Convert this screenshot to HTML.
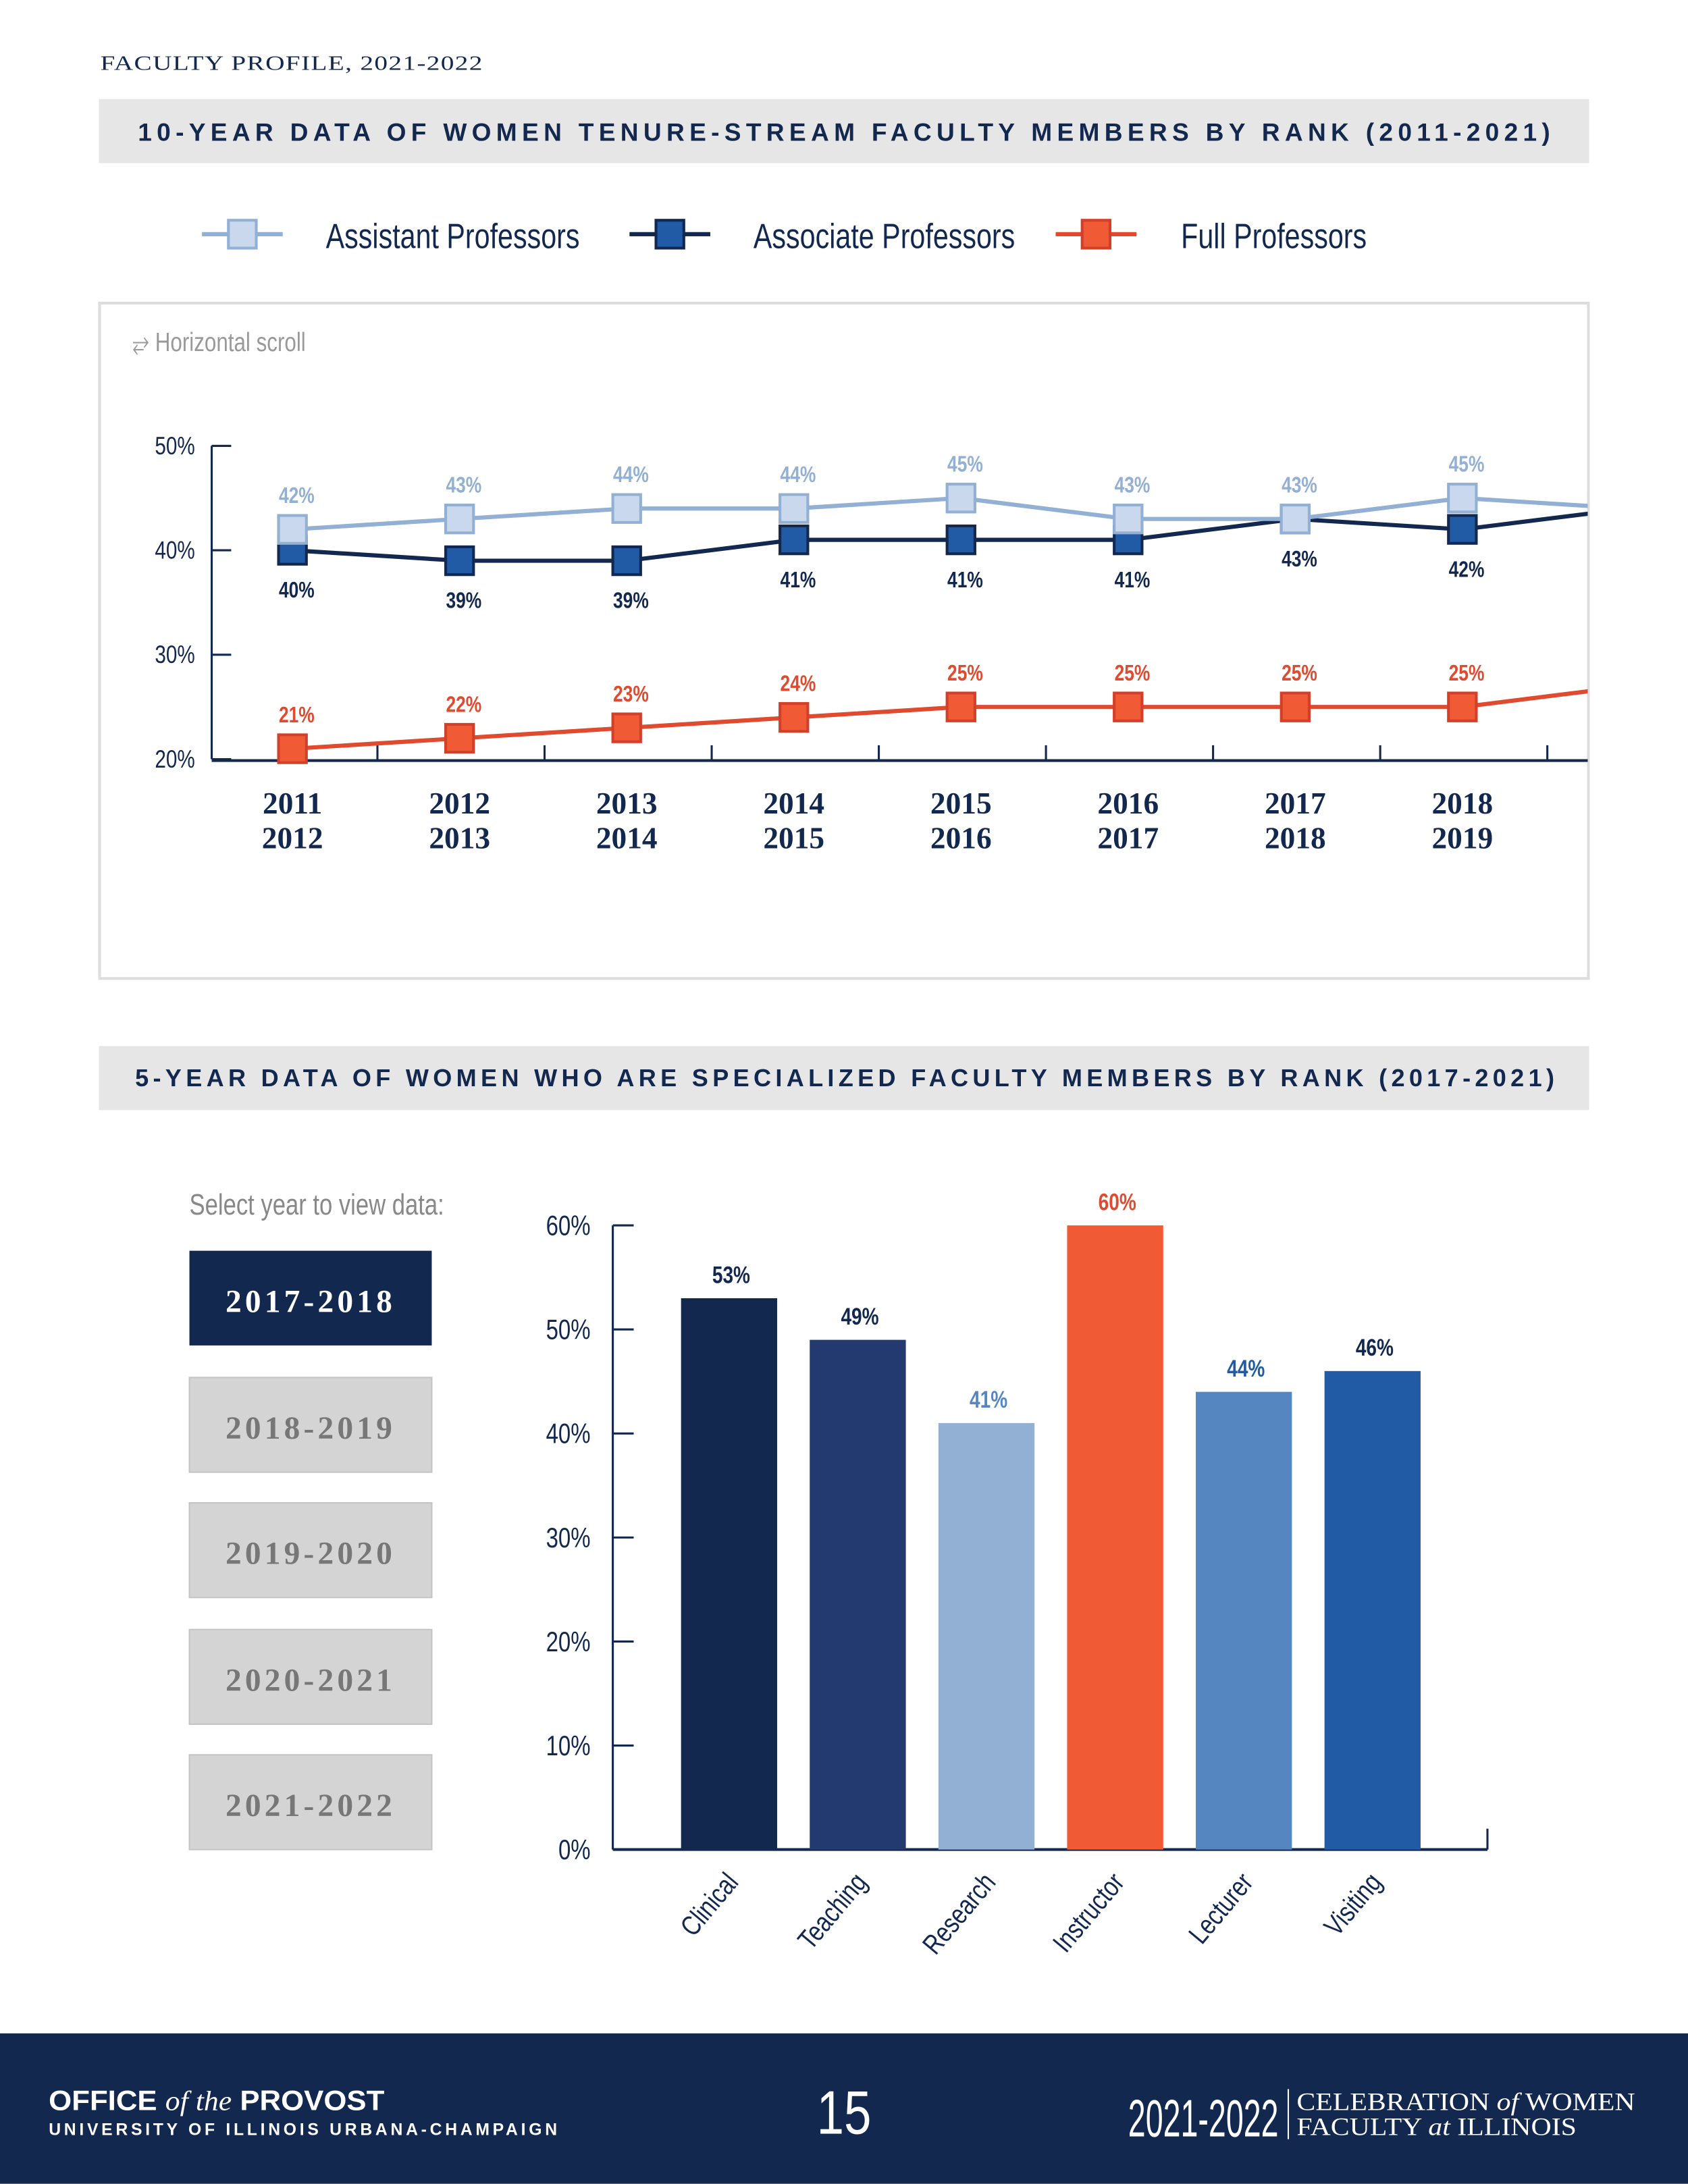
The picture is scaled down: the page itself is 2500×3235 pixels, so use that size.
<!DOCTYPE html>
<html><head><meta charset="utf-8"><style>
html,body{margin:0;padding:0;background:#fff}
svg{display:block}
.n{font-family:"Liberation Sans Narrow","Liberation Sans",sans-serif}
.s{font-family:"Liberation Sans",sans-serif}
.r{font-family:"Liberation Serif",serif}
</style></head><body>
<svg id="page" width="2500" height="3235" viewBox="0 0 1212 1568" xmlns="http://www.w3.org/2000/svg">
<text x="72" y="50" class="r" font-size="15" fill="#13284f" letter-spacing="0.5" textLength="275" lengthAdjust="spacingAndGlyphs">FACULTY PROFILE, 2021-2022</text>
<rect x="71" y="71" width="1070" height="46" fill="#e6e6e6"/>
<text x="99" y="101" class="s" font-weight="bold" font-size="18" fill="#13284f" textLength="1014" lengthAdjust="spacing">10-YEAR DATA OF WOMEN TENURE-STREAM FACULTY MEMBERS BY RANK (2011-2021)</text>
<g id="legend"></g>
<rect x="71.5" y="217.5" width="1069" height="485" fill="#fff" stroke="#ddd" stroke-width="2"/>
<text x="95" y="252" class="n" font-size="19" fill="#999">⥂ Horizontal scroll</text>
<g id="line"></g>
<rect x="71" y="751" width="1070" height="46" fill="#e6e6e6"/>
<text x="97" y="780" class="s" font-weight="bold" font-size="17.5" fill="#13284f" textLength="1019" lengthAdjust="spacing">5-YEAR DATA OF WOMEN WHO ARE SPECIALIZED FACULTY MEMBERS BY RANK (2017-2021)</text>
<text x="136" y="872" class="n" font-size="21" fill="#888">Select year to view data:</text>
<g id="buttons"></g>
<g id="bar"></g>
<rect x="0" y="1460" width="1212" height="108" fill="#13284f"/>
<text x="35" y="1515" class="s" font-weight="bold" font-size="20" fill="#fff" textLength="241" lengthAdjust="spacingAndGlyphs">OFFICE <tspan class="r" font-style="italic" font-weight="normal">of the</tspan> PROVOST</text>
<text x="35" y="1533" class="s" font-weight="bold" font-size="12" fill="#fff" textLength="365" lengthAdjust="spacing">UNIVERSITY OF ILLINOIS URBANA-CHAMPAIGN</text>
<text x="606" y="1532" text-anchor="middle" class="n" font-size="44" fill="#fff">15</text>
<text x="810" y="1534" class="n" font-size="38" fill="#fff" textLength="108" lengthAdjust="spacingAndGlyphs">2021-2022</text>
<line x1="925" y1="1500" x2="925" y2="1536" stroke="#fff" stroke-width="1"/>
<text x="931" y="1515" class="r" font-size="18" fill="#fff" textLength="243" lengthAdjust="spacingAndGlyphs">CELEBRATION <tspan font-style="italic">of</tspan> WOMEN</text>
<text x="931" y="1533" class="r" font-size="18" fill="#fff" textLength="201" lengthAdjust="spacingAndGlyphs">FACULTY <tspan font-style="italic">at</tspan> ILLINOIS</text>
</svg>
<script>
const NS="http://www.w3.org/2000/svg";
function mk(p,t,a,txt){const e=document.createElementNS(NS,t);for(const k in a)e.setAttribute(k,a[k]);if(txt!=null)e.textContent=txt;p.appendChild(e);return e;}

// line chart data
const years=["2011|2012","2012|2013","2013|2014","2014|2015","2015|2016","2016|2017","2017|2018","2018|2019","2019|2020"];
const assistant=[42,43,44,44,45,43,43,45,44];
const associate=[40,39,39,41,41,41,43,42,44];
const full=[21,22,23,24,25,25,25,25,27];
const lineTicks=[20,30,40,50];
// bar chart data
const barCats=["Clinical","Teaching","Research","Instructor","Lecturer","Visiting"];
const barVals=[53,49,41,60,44,46];
const barTicks=[0,10,20,30,40,50,60];
const yearsSel=["2017-2018","2018-2019","2019-2020","2020-2021","2021-2022"];

const series=[
 {name:"Assistant Professors",vals:assistant,line:"#92b0d4",fill:"#c9d8ec",stroke:"#92b0d4",lab:"#92b0d4",above:true,key:"assistant"},
 {name:"Associate Professors",vals:associate,line:"#13284f",fill:"#215ba5",stroke:"#13284f",lab:"#13284f",above:false,key:"associate"},
 {name:"Full Professors",vals:full,line:"#e04a2e",fill:"#f05a35",stroke:"#d2402a",lab:"#e04a2e",above:true,key:"full"}
];

// legend
const lg=document.getElementById('legend');
[[145,234],[452,541],[758,848]].forEach((p,i)=>{const s=series[i];
 const l=mk(lg,'line',{x1:p[0],y1:168,x2:p[0]+58,y2:168,stroke:s.line,'stroke-width':3});
 
 const r=mk(lg,'rect',{x:p[0]+19,y:158,width:20,height:20,fill:s.fill,stroke:s.stroke,'stroke-width':2});
 
 const t=mk(lg,'text',{x:p[1],y:178,class:'n','font-size':25,fill:'#13284f'},s.name);
 
});

// line chart
const L=document.getElementById('line');
const yL=v=>545-(v-20)*7.5, xL=i=>210+i*120;
const clip=mk(L,'clipPath',{id:'cl'});mk(clip,'rect',{x:72,y:218,width:1068,height:484});
lineTicks.forEach(v=>{
 const t=mk(L,'line',{x1:152,y1:yL(v),x2:166,y2:yL(v),stroke:'#13284f','stroke-width':1.5});
 
 const tx=mk(L,'text',{x:140,y:yL(v)+6,'text-anchor':'end',class:'n','font-size':18,fill:'#13284f'},v+'%');
 
});
const ax=mk(L,'line',{x1:152,y1:320,x2:152,y2:545,stroke:'#13284f','stroke-width':1.5});

const xa=mk(L,'line',{x1:152,y1:546,x2:1140,y2:546,stroke:'#13284f','stroke-width':2});

const g=mk(L,'g',{'clip-path':'url(#cl)'});
years.forEach((y,i)=>{
 if(i<years.length-1){const t=mk(g,'line',{x1:xL(i)+61,y1:535,x2:xL(i)+61,y2:546,stroke:'#13284f','stroke-width':1.5});
 }
 const pr=y.split('|');
 const t1=mk(g,'text',{x:xL(i),y:584,'text-anchor':'middle',class:'r','font-weight':'bold','font-size':22,fill:'#13284f'},pr[0]);
 
 const t2=mk(g,'text',{x:xL(i),y:609,'text-anchor':'middle',class:'r','font-weight':'bold','font-size':22,fill:'#13284f'},pr[1]);
 
});
const drawOrder=[series[2],series[1],series[0]];
drawOrder.forEach(s=>{
 const pl=mk(g,'polyline',{points:s.vals.map((v,i)=>xL(i)+','+yL(v)).join(' '),fill:'none',stroke:s.line,'stroke-width':3});
 
 s.vals.forEach((v,i)=>{
  const r=mk(g,'rect',{x:xL(i)-10,y:yL(v)-10,width:20,height:20,fill:s.fill,stroke:s.stroke,'stroke-width':2});
  
 });
});
series.forEach(s=>{
 s.vals.forEach((v,i)=>{
  const ty=s.above?yL(v)-19:yL(v)+34;
  const t=mk(g,'text',{x:xL(i)+3,y:ty,'text-anchor':'middle',class:'n','font-weight':'bold','font-size':16,fill:s.lab},v+'%');
  
 });
});

// year buttons
const B=document.getElementById('buttons');
yearsSel.forEach((y,i)=>{
 const top=[898,989,1079,1170,1260][i];
 const r=mk(B,'rect',{x:136,y:top,width:174,height:68,fill:i===0?'#13284f':'#d4d4d4',stroke:i===0?'none':'#c4c4c4'});
 
 const t=mk(B,'text',{x:223,y:top+44,'text-anchor':'middle',class:'r','font-weight':'bold','font-size':23,'letter-spacing':2.5,fill:i===0?'#fff':'#777'},y);
 
});

// bar chart
const C=document.getElementById('bar');
const yB=v=>1328-v*7.47;
const colors=["#13284f","#223a70","#92b0d4","#f05a35","#5686bf","#215ba5"];
const labCol=["#13284f","#13284f","#5686bf","#e04a2e","#215ba5","#13284f"];
barTicks.forEach(v=>{
 const t=mk(C,'line',{x1:440,y1:yB(v),x2:455,y2:yB(v),stroke:'#13284f','stroke-width':1.5});
 
 const tx=mk(C,'text',{x:424,y:yB(v)+7,'text-anchor':'end',class:'n','font-size':20,fill:'#13284f'},v+'%');
 
});
const by=mk(C,'line',{x1:440,y1:yB(60),x2:440,y2:1328,stroke:'#13284f','stroke-width':1.5});

const bx=mk(C,'line',{x1:440,y1:1328,x2:1068,y2:1328,stroke:'#13284f','stroke-width':2});

const be=mk(C,'line',{x1:1068,y1:1313,x2:1068,y2:1328,stroke:'#13284f','stroke-width':1.5});

barCats.forEach((c,i)=>{
 const x=489+i*92.4, v=barVals[i];
 const r=mk(C,'rect',{x:x,y:yB(v),width:69,height:1328-yB(v),fill:colors[i]});
 
 const t=mk(C,'text',{x:x+36,y:yB(v)-11,'text-anchor':'middle',class:'n','font-weight':'bold','font-size':17,fill:labCol[i]},v+'%');
 
 const cx=x+42,cy=1352;
 const l=mk(C,'text',{x:cx,y:cy,'text-anchor':'end',class:'n','font-size':20,fill:'#13284f',transform:`rotate(-50 ${cx} ${cy})`},c);
 
});

// condense narrow-font text (fallback font is wider than the reference's condensed face)
document.querySelectorAll('text.n').forEach(t=>{
 if(t.hasAttribute('textLength'))return;
 const w=t.getComputedTextLength();
 t.setAttribute('textLength',(w*0.8).toFixed(1));
 t.setAttribute('lengthAdjust','spacingAndGlyphs');
});
</script>
</body></html>
